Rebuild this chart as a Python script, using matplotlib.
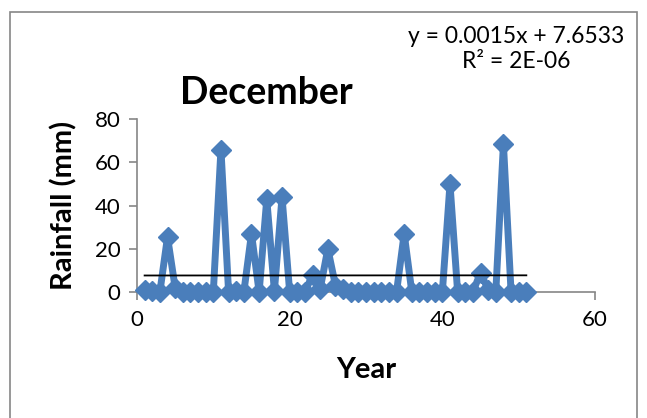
import matplotlib.pyplot as plt
from matplotlib.patches import Rectangle
import numpy as np

plt.rcParams['font.family'] = ['Lato', 'DejaVu Sans']

years = np.arange(1, 52)
rainfall = [1, 0.5, 0, 25.5, 2, 0, 0, 0, 0, 0,
            66, 0, 0.5, 0, 27, 0, 43, 0.5, 44, 0,
            0, 0, 8, 1.5, 20, 3, 1.5, 0, 0, 0,
            0, 0, 0, 0, 27, 0, 0, 0, 0, 0,
            50, 0, 0, 0, 9, 1, 0, 68.5, 0, 0,
            0]
slope = 0.0015
intercept = 7.6533

fig = plt.figure(figsize=(6.47, 4.18), dpi=100)
ax = fig.add_axes([0.2117, 0.3014, 0.708, 0.4132])

blue = '#4a7ebb'
ax.plot(years, rainfall, color=blue, lw=5, marker='D', ms=10.5,
        markerfacecolor=blue, markeredgecolor=blue, zorder=3, clip_on=False)
ax.plot(years, slope * years + intercept, color='black', lw=1.3, zorder=4)

ax.set_xlim(0, 60)
ax.set_ylim(0, 80)
ax.set_xticks([0, 20, 40, 60])
ax.set_yticks([0, 20, 40, 60, 80])
for s in ['top', 'right']:
    ax.spines[s].set_visible(False)
for s in ['left', 'bottom']:
    ax.spines[s].set_color('#868686')
    ax.spines[s].set_linewidth(1.2)
ax.spines['bottom'].set_zorder(1)
ax.tick_params(colors='#868686', labelcolor='black', labelsize=16, length=6, width=1.2)
ax.tick_params(axis='x', pad=7)
ax.tick_params(axis='y', pad=6)

ax.set_xlabel('Year', fontsize=21, fontweight='bold')
ax.set_ylabel('Rainfall (mm)', fontsize=21, fontweight='bold')
ax.xaxis.set_label_coords(0.5, -65 / 172.7)
ax.yaxis.set_label_coords(-60 / 458, 0.5)

fig.text(266 / 647, 1 - 93 / 418, 'December', ha='center', va='center',
         fontsize=27, fontweight='bold')
fig.text(516 / 647, 1 - 49 / 418, 'y = 0.0015x + 7.6533\nR² = 2E-06',
         ha='center', va='center', multialignment='center', fontsize=16.5,
         linespacing=1.2)

fig.add_artist(Rectangle((10 / 647, -0.05), 627 / 647, 1.05 - 12 / 418,
                         transform=fig.transFigure, fill=False,
                         edgecolor='#868686', lw=1.2))

fig.savefig('out.png', dpi=100)
